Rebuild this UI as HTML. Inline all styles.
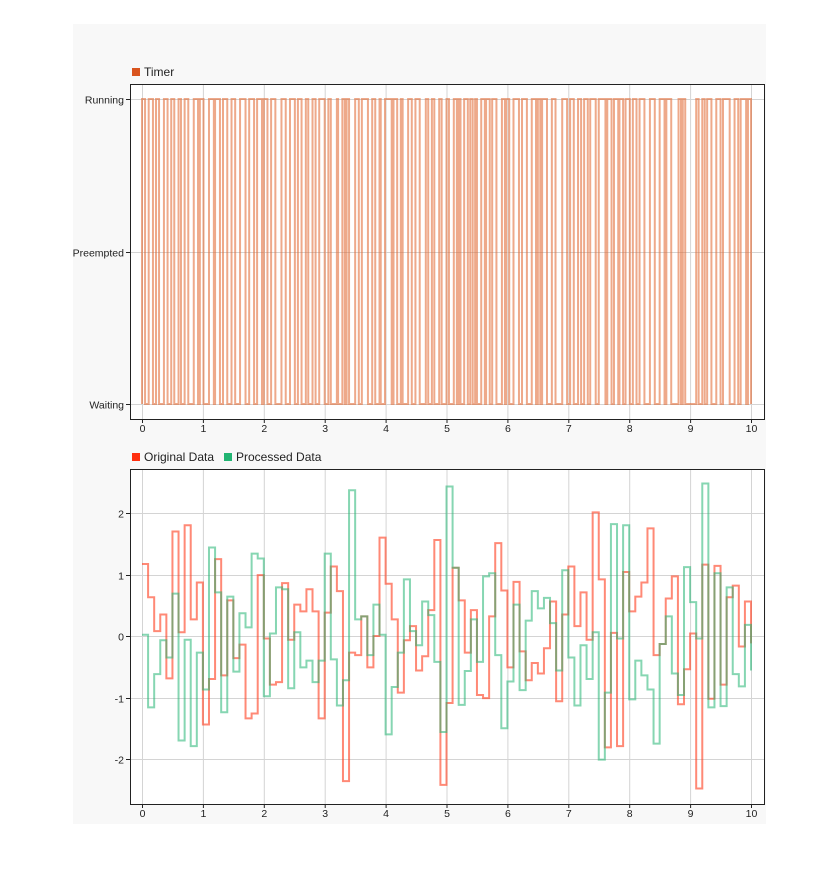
<!DOCTYPE html>
<html><head><meta charset="utf-8"><style>
html,body{margin:0;padding:0;background:#fff;width:839px;height:872px;overflow:hidden;font-family:"Liberation Sans",sans-serif;}
#panel{position:absolute;left:73px;top:24px;width:693px;height:800px;background:#f8f8f8;}
svg{position:absolute;left:0;top:0;}
</style></head><body>
<div id="panel"></div>
<svg id="svg" width="839" height="872"></svg>
<script>
// ===== data =====
const timerStates = ["Waiting","Preempted","Running"];
const timerToggles = [0,0.05,0.11,0.18,0.23,0.28,0.36,0.42,0.48,0.53,0.60,0.64,0.70,0.76,0.85,0.92,0.95,1.01,1.10,1.18,1.20,1.28,1.33,1.40,1.47,1.53,1.61,1.70,1.76,1.84,1.89,1.97,2.00,2.06,2.12,2.19,2.29,2.36,2.43,2.51,2.56,2.62,2.69,2.73,2.80,2.85,2.91,3.00,3.06,3.10,3.20,3.22,3.29,3.33,3.36,3.40,3.50,3.56,3.61,3.71,3.78,3.83,3.90,3.92,3.99,4.10,4.13,4.19,4.25,4.28,4.37,4.43,4.49,4.56,4.66,4.70,4.76,4.80,4.88,4.92,5.00,5.04,5.12,5.17,5.20,5.23,5.29,5.35,5.39,5.43,5.47,5.50,5.57,5.63,5.65,5.71,5.75,5.82,5.91,5.96,5.98,6.03,6.10,6.19,6.24,6.32,6.40,6.47,6.50,6.54,6.57,6.65,6.73,6.79,6.90,6.98,7.03,7.09,7.16,7.21,7.26,7.32,7.36,7.45,7.50,7.61,7.64,7.71,7.75,7.82,7.84,7.90,7.94,8.01,8.06,8.12,8.17,8.25,8.34,8.42,8.50,8.58,8.61,8.69,8.81,8.85,8.88,8.92,9.10,9.14,9.20,9.24,9.28,9.35,9.43,9.50,9.54,9.65,9.73,9.79,9.83,9.92,9.95,10.0];
const originalData = [1.17,0.63,0.08,0.35,-0.69,1.70,0.06,1.80,0.27,0.87,-1.44,-0.70,1.25,-0.64,0.58,-0.36,-0.14,-1.34,-1.26,0.99,
-0.04,-0.79,-0.75,0.86,-0.06,0.51,0.40,0.76,0.40,-1.34,0.38,1.13,0.73,-2.36,-0.27,-0.31,0.32,-0.51,0.00,1.60,
0.85,0.27,-0.92,-0.07,0.16,-0.56,-0.33,0.42,1.56,-2.42,-1.09,1.11,0.58,-0.27,0.42,-0.96,-1.01,0.32,1.51,0.74,
-0.51,0.88,-0.25,-0.72,-0.44,-0.61,-0.20,0.56,-1.06,0.35,1.13,0.16,0.71,-0.06,2.01,0.92,-1.81,0.05,-1.79,1.04,
0.40,0.64,0.87,1.75,-0.31,-0.13,0.61,0.97,-1.11,-0.54,0.04,-2.48,1.16,-1.02,1.14,-0.79,0.63,0.82,-0.17,0.56,-0.12];
const processedData = [0.02,-1.16,-0.62,-0.07,-0.35,0.69,-1.70,-0.06,-1.79,-0.27,-0.87,1.44,0.71,-1.24,0.64,-0.58,0.37,0.14,1.34,1.26,
-0.98,0.04,0.79,0.76,-0.85,0.06,-0.51,-0.40,-0.75,-0.40,1.34,-0.38,-1.13,-0.72,2.37,0.27,0.32,-0.31,0.51,0.02,
-1.60,-0.83,-0.27,0.92,0.08,-0.15,0.56,0.34,-0.42,-1.56,2.43,1.11,-1.12,-0.57,0.27,-0.42,0.97,1.02,-0.31,-1.50,
-0.74,0.51,-0.88,0.25,0.73,0.45,0.62,0.21,-0.56,1.07,-0.35,-1.13,-0.15,-0.70,0.06,-2.01,-0.92,1.82,-0.04,1.80,
-1.03,-0.40,-0.64,-0.87,-1.75,-0.13,0.32,-0.61,-0.96,1.12,0.55,-0.04,2.48,-1.16,1.02,-1.14,0.79,-0.62,-0.82,0.18,-0.56];
const xTicks = [0,1,2,3,4,5,6,7,8,9,10];
const yTicksBottom = [-2,-1,0,1,2];

// ===== helpers =====
const NS="http://www.w3.org/2000/svg";
const svg=document.getElementById('svg');
function mk(tag,attrs,parent){const e=document.createElementNS(NS,tag);for(const k in attrs)e.setAttribute(k,attrs[k]);(parent||svg).appendChild(e);return e;}
const L=130,R=764;
const xs=t=>142+(t-0)*(751-142)/10;
const T1=84,B1=419; const ys1=v=>404-v*(404-99)/2;
const T2=469,B2=804; const ys2=v=>636-v*(636-513)/2;

function frame(top,bot,name){
  const r=mk('rect',{x:L+0.5,y:top+0.5,width:R-L,height:bot-top,fill:'#fff',stroke:'none'});
  
  
}
function grid(top,bot,yvals,ysf,name){
  const g=mk('g',{});
  
  
  xTicks.forEach(t=>mk('line',{x1:xs(t)+0.5,x2:xs(t)+0.5,y1:top,y2:bot,stroke:'#d4d4d4','stroke-width':1},g));
  yvals.forEach(v=>mk('line',{x1:L,x2:R,y1:Math.round(ysf(v))+0.5,y2:Math.round(ysf(v))+0.5,stroke:'#d4d4d4','stroke-width':1},g));
}
function axes(top,bot,yvals,ysf,ylabels,name){
  const g=mk('g',{});
  
  
  mk('rect',{x:L+0.5,y:top+0.5,width:R-L,height:bot-top,fill:'none',stroke:'#222','stroke-width':1},g);
  xTicks.forEach(t=>{
    mk('line',{x1:xs(t)+0.5,x2:xs(t)+0.5,y1:bot,y2:bot+4,stroke:'#222'},g);
    const tx=mk('text',{x:xs(t)+0.5,y:bot+13,'text-anchor':'middle','font-size':'10.5px',fill:'#222'},g);
    tx.textContent=t;
    
    
  });
  yvals.forEach((v,i)=>{
    const y=Math.round(ysf(v))+0.5;
    mk('line',{x1:L-4,x2:L,y1:y,y2:y,stroke:'#222'},g);
    const tx=mk('text',{x:L-6,y:y+4,'text-anchor':'end','font-size':'10.5px',fill:'#222'},g);
    tx.textContent=ylabels[i];
    
    
  });
}
function legend(items,y){
  items.forEach(it=>{
    const g=mk('g',{});
    
    
    mk('rect',{x:it.x,y:y-8,width:8,height:8,fill:it.c},g);
    const t=mk('text',{x:it.x+12,y:y,'font-size':'12px',fill:'#222'},g);
    t.textContent=it.label;
  });
}
function stairs(data,ysf,color,op,name){
  let d='';
  data.forEach((v,i)=>{
    const x=xs(i*0.1), y=ysf(v);
    if(i===0) d+='M'+x+','+y; else d+='V'+y;
    if(i<data.length-1) d+='H'+xs((i+1)*0.1);
  });
  const p=mk('path',{d:d,fill:'none',stroke:color,'stroke-width':2,'stroke-opacity':op});
  
  
}

// ===== top chart =====
frame(T1,B1,'timer');
grid(T1,B1,[0,1,2],ys1,'timer');
(function(){
  let d='M'+xs(timerToggles[0])+','+ys1(0);
  let state=0;
  timerToggles.forEach((t,i)=>{
    const x=xs(t);
    d+='H'+x;
    state=state===0?2:0;
    d+='V'+ys1(state);
  });
  const p=mk('path',{d:d,fill:'none',stroke:'#e0622a','stroke-width':2,'stroke-opacity':0.55});
  
  
})();
axes(T1,B1,[0,1,2],ys1,timerStates,'timer');
legend([{x:132,c:'#d9541e',label:'Timer'}],76);

// ===== bottom chart =====
frame(T2,B2,'data');
grid(T2,B2,yTicksBottom,ys2,'data');
stairs(originalData,ys2,'#ff3a1a',0.6,'original-data-series');
stairs(processedData,ys2,'#22b573',0.55,'processed-data-series');
axes(T2,B2,yTicksBottom,ys2,yTicksBottom.map(String),'data');
legend([{x:132,c:'#ff2f0f',label:'Original Data'},{x:224,c:'#22b573',label:'Processed Data'}],461);
</script>
</body></html>
